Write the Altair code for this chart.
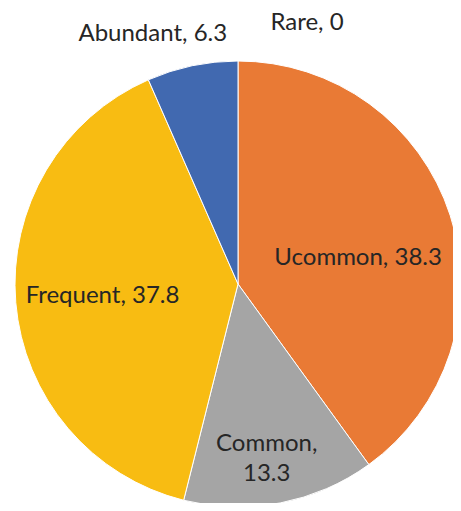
import altair as alt
import pandas as pd

categories = ["Rare", "Ucommon", "Common", "Frequent", "Abundant"]
values = [0, 38.3, 13.3, 37.8, 6.3]
labels = ["Rare, 0", "Ucommon, 38.3", "Common,\n13.3", "Frequent, 37.8", "Abundant, 6.3"]
colors = ["#5B9BD5", "#E97A35", "#A5A5A5", "#F8BC12", "#4169B0"]

df = pd.DataFrame({"cat": categories, "val": values, "label": labels,
                   "idx": list(range(len(categories)))})

CX, CY, R = 230, 268, 223
# label placement style: (radius, dx, dy)
label_style = {
    "Rare": (268, 69, 7),
    "Ucommon": (121, 5, 11),
    "Common": (173, -4, -10),
    "Frequent": (148, 12, 0),
    "Abundant": (264, -31, 8),
}

pie = alt.Chart(df).mark_arc(stroke="white", strokeWidth=1).encode(
    theta=alt.Theta("val:Q", stack=True),
    order=alt.Order("idx:Q"),
    color=alt.Color("cat:N", scale=alt.Scale(domain=categories, range=colors), legend=None),
    radius=alt.value(R),
    x=alt.value(CX),
    y=alt.value(CY),
)

stacked = (
    alt.Chart(df)
    .transform_stack(stack="val", groupby=[], as_=["v0", "v1"],
                     sort=[alt.SortField("idx", order="ascending")])
    .transform_joinaggregate(total="sum(val)")
    .transform_calculate(frac="(datum.v0 + datum.v1) / 2 / datum.total")
)

layers = [pie]
for c in categories:
    r, dx, dy = label_style[c]
    t = stacked.transform_filter(alt.datum.cat == c).mark_text(
        font="Lato", fontSize=24, color="#262626", dx=dx, dy=dy,
        lineBreak="\n", lineHeight=30,
    ).encode(
        text="label:N",
        theta=alt.Theta("frac:Q", scale=alt.Scale(domain=[0, 1]), stack=False),
        radius=alt.value(r),
        x=alt.value(CX),
        y=alt.value(CY),
    )
    layers.append(t)

chart = alt.layer(*layers).resolve_scale(theta="independent").properties(
    width=445, height=487,
    autosize=alt.AutoSizeParams(type="none"),
    padding={"left": 0, "top": 8, "right": 0, "bottom": 0},
).configure_view(stroke=None)

chart.save("out.html", embed_options={"renderer": "svg", "actions": False})
